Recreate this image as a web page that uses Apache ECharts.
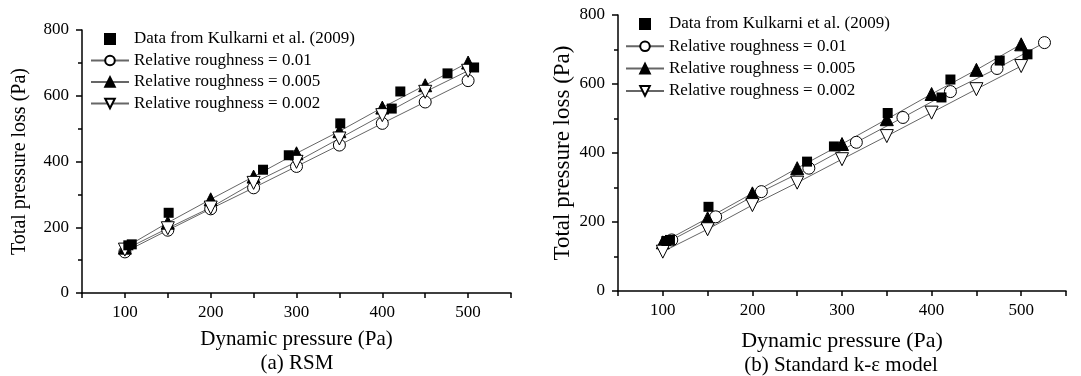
<!DOCTYPE html>
<html>
<head>
<meta charset="utf-8">
<script src="https://cdn.jsdelivr.net/npm/echarts@6/dist/echarts.min.js"></script>
<style>
  html, body { margin: 0; padding: 0; background: #fff; }
  #chart { width: 1081px; height: 376px; }
</style>
</head>
<body>
<div id="chart"></div>
<script>
// experimental points (same in both panels)
const kulX = [104, 108, 151, 261, 291, 351, 411, 421, 476, 507];
const kulY = [145, 148, 244, 375, 419, 516, 561, 613, 668, 686];

// (a) RSM
const rsmX = [100, 150, 200, 250, 300, 350, 400, 450, 500];
const rsm001 = [125, 191, 256, 320, 385, 450, 516, 581, 646];
const rsm0005 = [138, 214, 285, 354, 425, 492, 564, 632, 701];
const rsm0002 = [132, 197, 260, 335, 399, 470, 541, 612, 676];

// (b) standard k-e
const skeX = [100, 150, 200, 250, 300, 350, 400, 450, 500];
const ske001X = [110, 159, 210, 263, 316, 368, 421, 473, 526];
const ske001 = [148, 215, 288, 356, 431, 503, 578, 645, 720];
const ske0005 = [141, 211, 283, 356, 426, 498, 571, 641, 715];
const ske0002 = [114, 179, 249, 314, 382, 449, 517, 585, 652];

const names = ['Data from Kulkarni et al. (2009)', 'Relative roughness = 0.01',
    'Relative roughness = 0.005', 'Relative roughness = 0.002'];
const subTitles = ['(a) RSM', '(b) Standard k-\u03b5 model'];

const pairs = (xs, ys) => xs.map((x, i) => [x, ys[i]]);
const font = 'Liberation Serif, Times New Roman, serif';

const myChart = echarts.init(document.getElementById('chart'));

function xAxis(idx, gap, size) {
    return {
        type: 'value', gridIndex: idx, min: 50, max: 550, interval: 50,
        name: 'Dynamic pressure (Pa)', nameLocation: 'middle', nameGap: gap,
        nameTextStyle: { fontFamily: font, fontSize: size, color: '#000' },
        axisLine: { lineStyle: { color: '#000', width: 1.5 } },
        axisTick: { length: 5, lineStyle: { color: '#000', width: 1.5 } },
        axisLabel: {
            fontFamily: font, fontSize: 17, color: '#000', margin: 11,
            formatter: v => (v % 100 === 0 ? v : '')
        },
        splitLine: { show: false }
    };
}
function yAxis(idx, gap, size) {
    return {
        type: 'value', gridIndex: idx, min: 0, max: 800, interval: 200,
        name: 'Total pressure loss (Pa)', nameLocation: 'middle', nameRotate: 90, nameGap: gap,
        nameTextStyle: { fontFamily: font, fontSize: size, color: '#000' },
        axisLine: { show: true, lineStyle: { color: '#000', width: 1.5 } },
        axisTick: { show: true, length: 6, lineStyle: { color: '#000', width: 1.5 } },
        minorTick: { show: true, splitNumber: 2, length: 4, lineStyle: { color: '#000', width: 1.5 } },
        axisLabel: { fontFamily: font, fontSize: 17, color: '#000', margin: 13 },
        splitLine: { show: false }
    };
}

function lineSeries(name, idx, xs, ys, symbol, rotate, filled) {
    return {
        name: name, type: 'line', xAxisIndex: idx, yAxisIndex: idx,
        data: pairs(xs, ys),
        symbol: symbol, symbolSize: symbol === 'circle' ? 12 : 13, symbolRotate: rotate,
        lineStyle: { color: '#666', width: 1 },
        itemStyle: { color: filled ? '#000' : '#fff', borderColor: '#000', borderWidth: 1 },
        emphasis: { disabled: true }
    };
}
function kulSeries(idx) {
    return {
        name: names[0], type: 'scatter', xAxisIndex: idx, yAxisIndex: idx,
        data: pairs(kulX, kulY), symbol: 'rect', symbolSize: 10, z: 5,
        itemStyle: { color: '#000', opacity: 1 }
    };
}

function legend(left, top, gap) {
    return {
        orient: 'vertical', left: left, top: top, itemWidth: 38, itemHeight: 12, itemGap: gap,
        selectedMode: false,
        textStyle: { fontFamily: font, fontSize: 17, color: '#000', lineHeight: 18 },
        data: [
            { name: names[0], icon: 'path://M0,0h10v10h-10z' },
            names[1], names[2], names[3]
        ]
    };
}

const option = {
    animation: false,
    backgroundColor: '#fff',
    grid: [
        { left: 82, top: 30, width: 429, height: 263, outerBoundsMode: 'none' },
        { left: 618, top: 15, width: 448, height: 276, outerBoundsMode: 'none' }
    ],
    legend: [legend(85, 25, 3.5), legend(620, 10, 4.3)],
    xAxis: [xAxis(0, 36, 21), xAxis(1, 39, 22)],
    yAxis: [yAxis(0, 52, 20), yAxis(1, 44, 23)],
    graphic: [
        { type: 'text', x: 297, y: 363, style: { text: subTitles[0], font: '21px ' + font, fill: '#000', align: 'center', verticalAlign: 'middle', textAlign: 'center', textVerticalAlign: 'middle' } },
        { type: 'text', x: 841, y: 365, style: { text: subTitles[1], font: '21px ' + font, fill: '#000', align: 'center', verticalAlign: 'middle', textAlign: 'center', textVerticalAlign: 'middle' } }
    ],
    series: [
        lineSeries(names[1], 0, rsmX, rsm001, 'circle', 0, false),
        lineSeries(names[2], 0, rsmX, rsm0005, 'triangle', 0, true),
        lineSeries(names[3], 0, rsmX, rsm0002, 'triangle', 180, false),
        kulSeries(0),
        lineSeries(names[1], 1, ske001X, ske001, 'circle', 0, false),
        lineSeries(names[2], 1, skeX, ske0005, 'triangle', 0, true),
        lineSeries(names[3], 1, skeX, ske0002, 'triangle', 180, false),
        kulSeries(1)
    ]
};

window.onresize = () => {
    myChart.resize();
};
myChart.setOption(option);
</script>
</body>
</html>
